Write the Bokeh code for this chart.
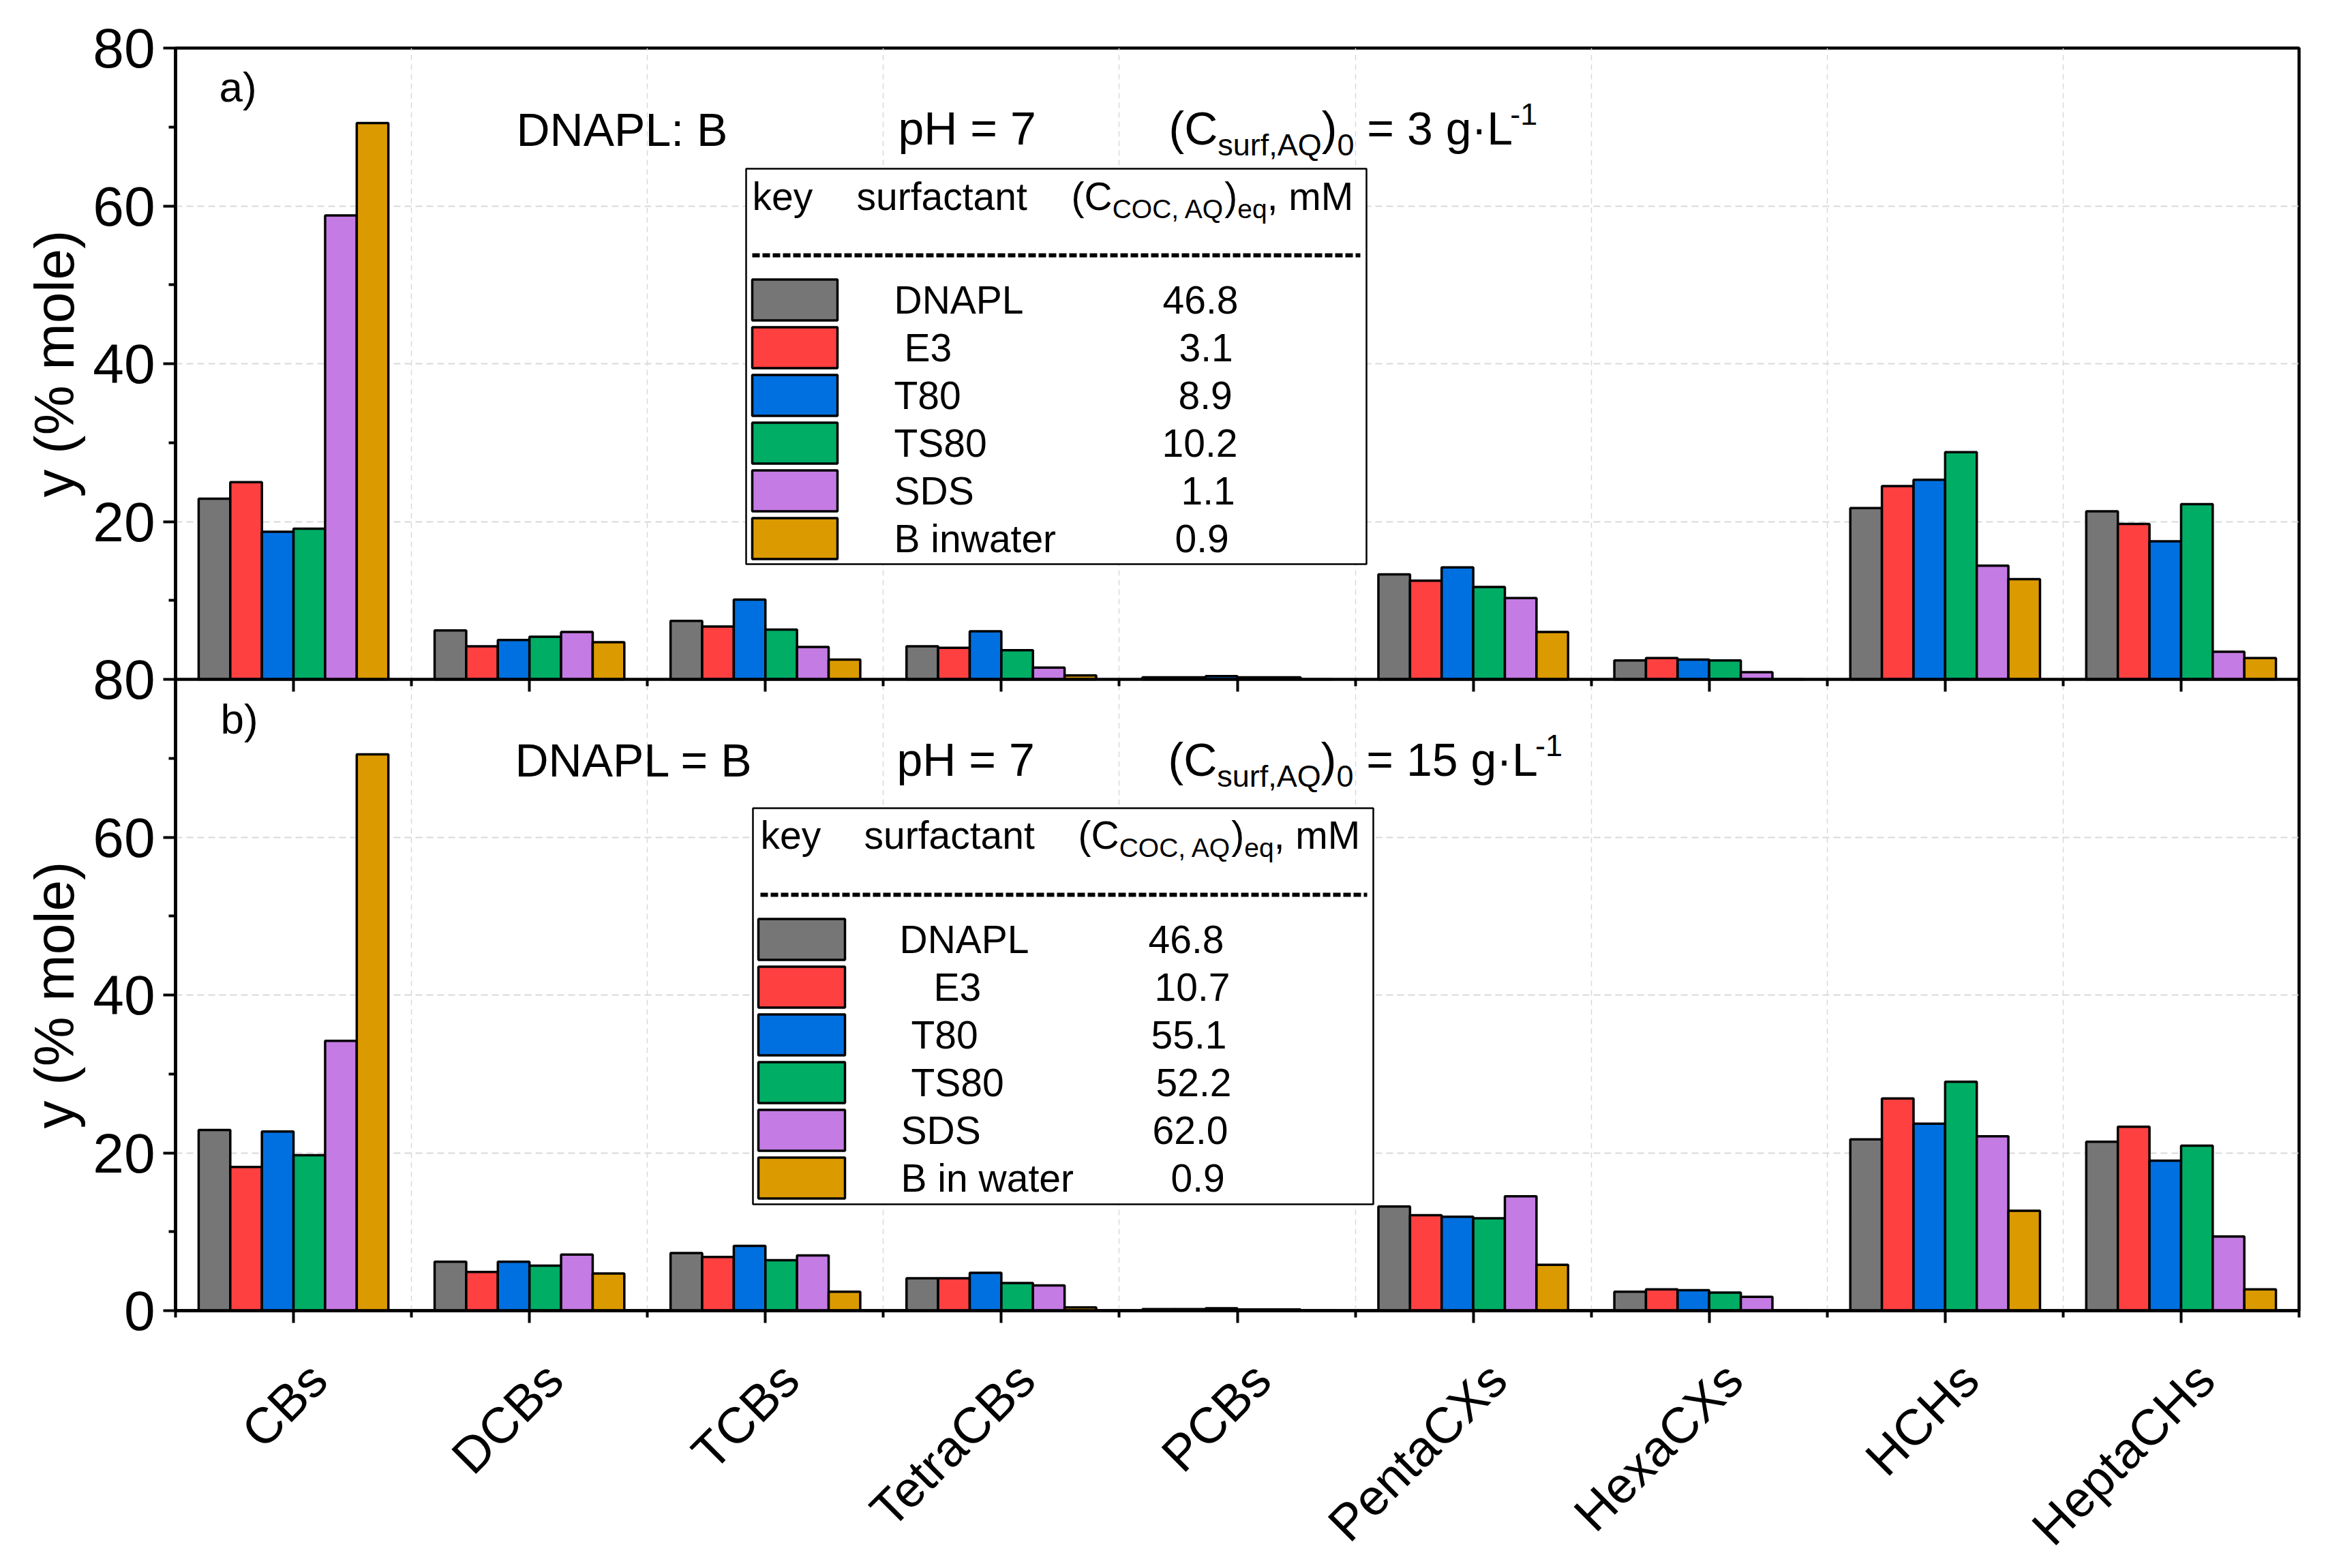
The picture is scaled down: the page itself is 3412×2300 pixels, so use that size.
import math
from bokeh.plotting import figure
from bokeh.layouts import gridplot
from bokeh.models import Range1d, FixedTicker, LinearAxis, Label, BoxAnnotation, ColumnDataSource
from bokeh.transform import dodge
from bokeh.embed import file_html
from bokeh.resources import INLINE

# ---------------- data ----------------
categories = ["CBs", "DCBs", "TCBs", "TetraCBs", "PCBs", "PentaCXs", "HexaCXs", "HCHs", "HeptaCHs"]
series_names = ["DNAPL", "E3", "T80", "TS80", "SDS", "B in water"]
series_colors = ["#767676", "#FF4040", "#0070E0", "#00AD65", "#C47BE3", "#DB9A00"]

# panel a) (C_surf,AQ)0 = 3 g/L
a_dnapl = [22.9, 6.2, 7.4, 4.2, 0.26, 13.3, 2.4, 21.7, 21.3]
a_e3    = [25.0, 4.2, 6.7, 4.0, 0.26, 12.5, 2.7, 24.5, 19.7]
a_t80   = [18.7, 5.0, 10.1, 6.1, 0.40, 14.2, 2.5, 25.3, 17.5]
a_ts80  = [19.1, 5.4, 6.3, 3.7, 0.26, 11.7, 2.4, 28.8, 22.2]
a_sds   = [58.8, 6.0, 4.1, 1.5, 0.26, 10.3, 0.9, 14.4, 3.5]
a_bw    = [70.5, 4.7, 2.5, 0.5, 0.0, 6.0, 0.0, 12.7, 2.7]

# panel b) (C_surf,AQ)0 = 15 g/L
b_dnapl = [22.9, 6.2, 7.3, 4.1, 0.20, 13.2, 2.4, 21.7, 21.4]
b_e3    = [18.2, 4.9, 6.8, 4.1, 0.20, 12.1, 2.7, 26.9, 23.3]
b_t80   = [22.7, 6.2, 8.2, 4.8, 0.30, 11.9, 2.6, 23.7, 19.0]
b_ts80  = [19.7, 5.7, 6.4, 3.5, 0.15, 11.7, 2.3, 29.0, 20.9]
b_sds   = [34.2, 7.1, 7.0, 3.2, 0.15, 14.5, 1.75, 22.1, 9.4]
b_bw    = [70.5, 4.7, 2.4, 0.4, 0.0, 5.8, 0.0, 12.65, 2.7]

legend_a_names = ["DNAPL", "E3", "T80", "TS80", "SDS", "B inwater"]
legend_a_values = ["46.8", "3.1", "8.9", "10.2", "1.1", "0.9"]
legend_b_names = ["DNAPL", "E3", "T80", "TS80", "SDS", "B in water"]
legend_b_values = ["46.8", "10.7", "55.1", "52.2", "62.0", "0.9"]

y_tick_values = [0, 20, 40, 60, 80, 100, 120, 140, 160]
y_tick_labels = ["0", "20", "40", "60", "80", "20", "40", "60", "80"]
y_minor_values = [10, 30, 50, 70, 90, 110, 130, 150]
PANEL_OFFSET = 80  # panel a) is stacked on top of panel b)

# ---------------- layout ----------------
FONT = "Liberation Sans"
FRAME_W, FRAME_H = 3115, 1852
LW = 130                      # width of the strip holding the y titles
FL, FT = 257, 70              # frame left / top in page px
FB = FT + FRAME_H
BORDER_R = 32
P_BOT = 50                    # main figure bottom border (ticks only)
STRIP_TOP = FB + P_BOT
STRIP_H = 320
P_W = (FL - LW) + FRAME_W + BORDER_R
PXU = FRAME_W / 9.0
PYU = FRAME_H / 160.0
BAR_W = 0.134
LABEL_DX = 0.104              # rotated label end, right of its tick (data units)
LABEL_DY = 89                 # rotated label end, below the axis (px)


def X(px):
    return 0.5 + (px - FL) / PXU


def Y(py):
    return (FB - py) / PYU


p = figure(frame_width=FRAME_W, frame_height=FRAME_H,
           x_range=Range1d(0.5, 9.5), y_range=Range1d(0, 160),
           output_backend="svg", toolbar_location=None,
           min_border_left=FL - LW, min_border_right=BORDER_R,
           min_border_top=FT, min_border_bottom=P_BOT)
p.background_fill_color = "white"
p.border_fill_color = "white"
p.outline_line_color = "black"
p.outline_line_width = 4.5

cat_pos = list(range(1, len(categories) + 1))
minor_pos = [0.5 + i for i in range(10)]

panel_a = [a_dnapl, a_e3, a_t80, a_ts80, a_sds, a_bw]
panel_b = [b_dnapl, b_e3, b_t80, b_ts80, b_sds, b_bw]

for panel, off in ((panel_b, 0), (panel_a, PANEL_OFFSET)):
    for i, (vals, color) in enumerate(zip(panel, series_colors)):
        src = ColumnDataSource(dict(x=cat_pos,
                                    top=[v + off for v in vals],
                                    bottom=[off] * len(vals)))
        p.vbar(x=dodge("x", (i - 2.5) * BAR_W, range=p.x_range), top="top", bottom="bottom",
               width=BAR_W, source=src, fill_color=color, line_color="black", line_width=3.5)

# ---------------- axes ----------------
tick_style = dict(major_tick_out=18, major_tick_in=0, minor_tick_out=10, minor_tick_in=0,
                  major_tick_line_width=4, minor_tick_line_width=4,
                  major_tick_line_color="black", minor_tick_line_color="black",
                  axis_line_width=4.5, axis_line_color="black")

ya = p.yaxis[0]
ya.ticker = FixedTicker(ticks=y_tick_values, minor_ticks=y_minor_values)
ya.major_label_overrides = {v: l for v, l in zip(y_tick_values, y_tick_labels)}
ya.major_label_text_font = FONT
ya.major_label_text_font_size = "82px"
ya.major_label_text_color = "black"
ya.major_label_standoff = 12
for k, v in tick_style.items():
    setattr(ya, k, v)

# bottom axis: ticks only (the rotated names are drawn in the strip below)
xa = p.xaxis[0]
xa.ticker = FixedTicker(ticks=cat_pos, minor_ticks=minor_pos)
xa.major_label_overrides = {c: "" for c in cat_pos}
xa.major_label_standoff = 0
for k, v in tick_style.items():
    setattr(xa, k, v)

# ticks on the boundary between the two panels
mid = LinearAxis(fixed_location=PANEL_OFFSET,
                 ticker=FixedTicker(ticks=cat_pos, minor_ticks=minor_pos),
                 major_label_overrides={c: "" for c in cat_pos},
                 major_label_standoff=0, **tick_style)
p.add_layout(mid, "below")

# grids
p.xgrid.ticker = FixedTicker(ticks=[1.5 + i for i in range(8)])
p.xgrid.grid_line_color = "#d9d9d9"
p.xgrid.grid_line_dash = "8 6"
p.xgrid.grid_line_width = 1.5
p.ygrid.ticker = FixedTicker(ticks=[20, 40, 60, 100, 120, 140])
p.ygrid.grid_line_color = "#d9d9d9"
p.ygrid.grid_line_dash = "10 6"
p.ygrid.grid_line_width = 2

# ---------------- text helpers ----------------
WIDTHS = {' ': 278, '(': 333, ')': 333, ',': 278, '-': 333, '.': 278, '\u00b7': 278, '=': 584, ':': 278,
          'A': 667, 'B': 667, 'C': 722, 'D': 722, 'E': 667, 'H': 722, 'L': 556, 'M': 833, 'N': 722,
          'O': 778, 'P': 667, 'Q': 778, 'S': 667, 'T': 611,
          'a': 556, 'c': 500, 'e': 556, 'f': 278, 'g': 556, 'i': 222, 'k': 500, 'l': 222, 'm': 833,
          'n': 556, 'o': 556, 'p': 556, 'q': 556, 'r': 333, 's': 500, 't': 278, 'u': 556, 'w': 722,
          'y': 500}
MID = 0.35  # distance baseline -> visual middle, in em


def text_width(s, size):
    return sum(WIDTHS.get(ch, 556) for ch in s) * size / 1000.0


def txt(s, px, py, size, **kw):
    """py is the baseline position in page pixels."""
    opts = dict(text_font=FONT, text_font_size=f"{size}px", text_color="black",
                text_baseline="middle", text_align="left")
    opts.update(kw)
    p.add_layout(Label(x=X(px), y=Y(py - MID * size), text=s, **opts))


def rich(parts, px, py):
    x = px
    for s, size, dy in parts:
        stripped = s.lstrip(" ")
        x += (len(s) - len(stripped)) * WIDTHS[" "] * size / 1000.0
        txt(stripped, x, py + dy, size)
        x += text_width(stripped, size)


# panel annotations
ANN = 68
txt("a)", 321, 149, 62)
txt("DNAPL: B", 757, 213, ANN)
txt("pH = 7", 1317, 211, ANN)
rich([("(C", ANN, 0), ("surf,AQ", 45, 17), (")", ANN, 0), ("0", 45, 17),
      (" = 3 g\u00b7L", ANN, 0), ("-1", 45, -28)], 1714, 211)

txt("b)", 323, 1076, 62)
txt("DNAPL = B", 755, 1138, ANN)
txt("pH = 7", 1315, 1137, ANN)
rich([("(C", ANN, 0), ("surf,AQ", 45, 17), (")", ANN, 0), ("0", 45, 17),
      (" = 15 g\u00b7L", ANN, 0), ("-1", 45, -28)], 1713, 1137)

# ---------------- custom legends ----------------
LEG = 57
LSUB = 39


def legend(box, key_x, surf_x, conc_x, header_base, dash_y, dash_x1, sw_x0, sw_x1,
           row0, names, name_xs, values, value_xs):
    l, t, r, b = box
    p.add_layout(BoxAnnotation(left=X(l), right=X(r), top=Y(t), bottom=Y(b),
                               fill_color="white", fill_alpha=1.0,
                               line_color="black", line_alpha=1.0, line_width=2.5,
                               line_dash="solid"))
    txt("key", key_x, header_base, LEG)
    txt("surfactant", surf_x, header_base, LEG)
    rich([("(C", LEG, 0), ("COC, AQ", LSUB, 13), (")", LEG, 0), ("eq", LSUB, 13),
          (", mM", LEG, 0)], conc_x, header_base)
    seg = p.segment(x0=[X(key_x)], y0=[Y(dash_y)], x1=[X(dash_x1)], y1=[Y(dash_y)],
                    line_color="black", line_width=6, line_dash="11 4")
    seg.level = "overlay"
    for i, color in enumerate(series_colors):
        cy = row0 + 70 * i
        p.add_layout(BoxAnnotation(left=X(sw_x0), right=X(sw_x1), top=Y(cy - 30), bottom=Y(cy + 30),
                                   fill_color=color, fill_alpha=1.0,
                                   line_color="black", line_alpha=1.0, line_width=3.5,
                                   line_dash="solid"))
        txt(names[i], name_xs[i], cy + 20, LEG)
        txt(values[i], value_xs[i], cy + 20, LEG)


legend((1094, 247, 2004, 827), 1103, 1256, 1571, 307, 374, 1995, 1103, 1228, 439.5,
       legend_a_names, [1311, 1326, 1311, 1311, 1311, 1311],
       legend_a_values, [1705, 1729, 1728, 1704, 1732, 1723])
legend((1104, 1185, 2014, 1766), 1115, 1267, 1581, 1244, 1312, 2005, 1112, 1239, 1377.6,
       legend_b_names, [1319, 1369, 1336, 1336, 1321, 1321],
       legend_b_values, [1684, 1693, 1688, 1695, 1690, 1717])


def blank(fig):
    fig.outline_line_color = None
    fig.grid.visible = False
    fig.background_fill_color = "white"
    fig.border_fill_color = "white"


# ---------------- strip with the two y titles (frame aligned with p) ----------------
q = figure(width=LW, height=FT + FRAME_H + P_BOT, x_range=Range1d(0, LW), y_range=Range1d(FB, FT),
           output_backend="svg", toolbar_location=None,
           x_axis_location=None, y_axis_location=None,
           min_border_left=0, min_border_right=0, min_border_top=FT, min_border_bottom=P_BOT)
blank(q)
YT = 82
for cy in ((FT + (FT + FB) / 2) / 2, ((FT + FB) / 2 + FB) / 2):
    q.add_layout(Label(x=108 - MID * YT, y=cy, text="y (% mole)", angle=math.pi / 2,
                       text_font=FONT, text_font_size=f"{YT}px", text_color="black",
                       text_align="center", text_baseline="middle"))

# ---------------- strip with the rotated category names ----------------
s = figure(width=P_W, height=STRIP_H, x_range=p.x_range,
           y_range=Range1d(STRIP_TOP + STRIP_H, STRIP_TOP),
           output_backend="svg", toolbar_location=None,
           x_axis_location=None, y_axis_location=None,
           min_border_left=FL - LW, min_border_right=BORDER_R, min_border_top=0, min_border_bottom=0)
blank(s)
CAT_FS = 74
for c, name in zip(cat_pos, categories):
    s.add_layout(Label(x=c + LABEL_DX, y=FB + LABEL_DY, text=name, angle=math.pi / 4,
                       text_font=FONT, text_font_size=f"{CAT_FS}px", text_color="black",
                       text_align="right", text_baseline="middle"))

layout = gridplot([[q, p], [None, s]], toolbar_location=None)
open("out.html", "w").write(file_html(layout, INLINE))
